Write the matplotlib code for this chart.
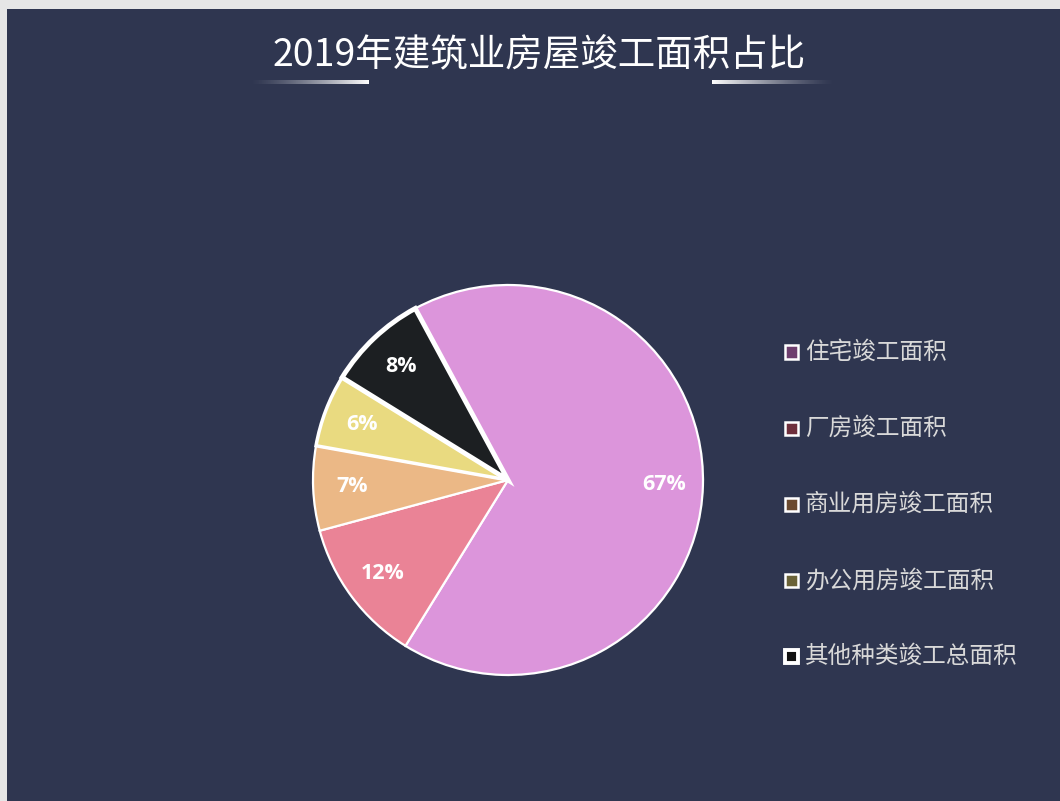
import numpy as np
import matplotlib

matplotlib.use("Agg")
import matplotlib.pyplot as plt
from matplotlib.patches import Rectangle

CJK = ["Noto Sans CJK SC", "DejaVu Sans"]
plt.rcParams["font.family"] = CJK

TITLE = "2019年建筑业房屋竣工面积占比"
CATEGORIES = ["住宅竣工面积", "厂房竣工面积", "商业用房竣工面积", "办公用房竣工面积", "其他种类竣工总面积"]
SHARES = [66.7, 12.0, 7.0, 6.0, 8.3]
COLORS = ["#dc95db", "#ea8396", "#ebb886", "#e9da80", "#1c1f22"]
MARKER_COLORS = ["#6e3f6e", "#6e2f3c", "#6b4a2f", "#6b6338", "#111111"]
BG = "#2f3650"

W, H = 1060, 801
fig = plt.figure(figsize=(W / 100, H / 100), dpi=100)
fig.patch.set_facecolor("#e6e6e6")

# chart area (light border on left/top)
bg_ax = fig.add_axes([7 / W, 0, 1 - 7 / W, 1 - 9 / H])
bg_ax.set_facecolor(BG)
bg_ax.set_xticks([])
bg_ax.set_yticks([])
for s in bg_ax.spines.values():
    s.set_visible(False)

fig.text(539 / W, 1 - 56 / H, TITLE, ha="center", va="center",
         fontsize=27, color="white", family=CJK)


def grad_line(x0, x1, y, reverse=False):
    a = fig.add_axes([x0 / W, 1 - (y + 2) / H, (x1 - x0) / W, 4 / H])
    alpha = np.linspace(0, 1, 200) ** 1.3
    if reverse:
        alpha = alpha[::-1]
    img = np.ones((1, 200, 4))
    img[0, :, 3] = alpha
    a.imshow(img, aspect="auto", extent=(0, 1, 0, 1))
    a.axis("off")


grad_line(250, 368, 82)
grad_line(712, 835, 82, reverse=True)

# pie
cx, cy, r = 508, 480, 195
ax = fig.add_axes([(cx - r) / W, (H - cy - r) / H, 2 * r / W, 2 * r / H])
wedges, texts, autotexts = ax.pie(
    SHARES, colors=COLORS, startangle=118.4, counterclock=False,
    autopct=lambda p: f"{p:.0f}%", pctdistance=0.8,
    wedgeprops=dict(edgecolor="white", linewidth=1.6),
    textprops=dict(color="white", fontsize=15.5, fontweight="bold",
                   family=["Open Sans", "DejaVu Sans"]))
wedges[-1].set_linewidth(3.5)
wedges[3].set_linewidth(2.5)
ax.set_xlim(-1.0, 1.0)
ax.set_ylim(-1.0, 1.0)
ax.set_aspect("equal")

# legend
y0, step = 352, 76.2
for i, (lab, mc) in enumerate(zip(CATEGORIES, MARKER_COLORS)):
    y = y0 + i * step
    lw = 2.8 if i == len(CATEGORIES) - 1 else 1.8
    fig.patches.append(Rectangle((785 / W, (H - y - 6.5) / H), 13 / W, 13 / H,
                                 transform=fig.transFigure, facecolor=mc,
                                 edgecolor="white", linewidth=lw))
    fig.text(805 / W, 1 - y / H, lab, ha="left", va="center",
             fontsize=17, color="#d9d9d9", family=CJK)

fig.savefig("out.png", dpi=100, facecolor=fig.get_facecolor())
